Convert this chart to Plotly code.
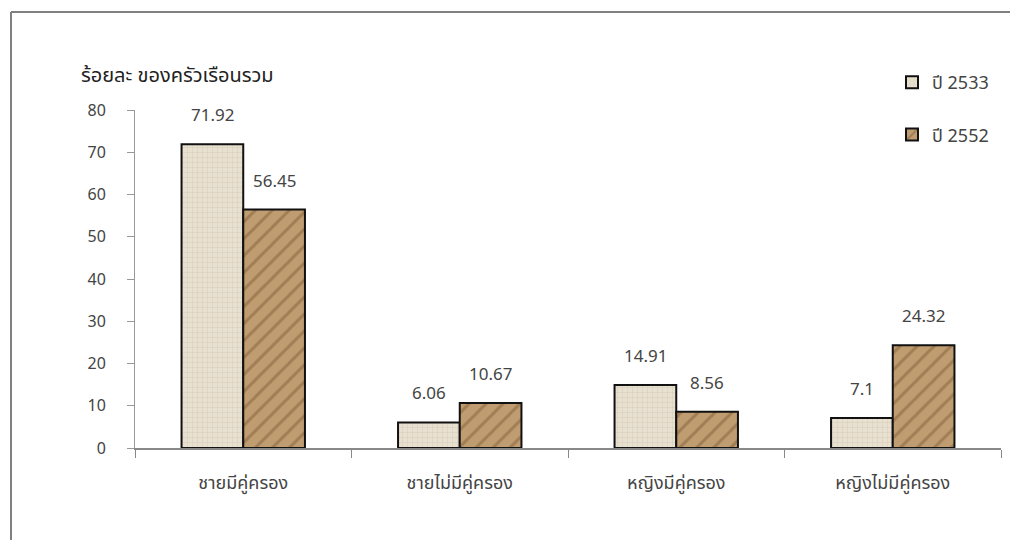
import plotly.graph_objects as go

categories = ["ชายมีคู่ครอง", "ชายไม่มีคู่ครอง", "หญิงมีคู่ครอง", "หญิงไม่มีคู่ครอง"]
series_names = ["ปี 2533", "ปี 2552"]
values_2533 = [71.92, 6.06, 14.91, 7.1]
values_2552 = [56.45, 10.67, 8.56, 24.32]
y_ticks = [0, 10, 20, 30, 40, 50, 60, 70, 80]
y_title = "ร้อยละ ของครัวเรือนรวม"

FONT = "Tahoma, 'Noto Sans Thai', 'Noto Sans', 'DejaVu Sans', sans-serif"
W, H = 1018, 540
OFF = 8  # page body margin
L, R, T, B = 127, 25, 102, 100
PW, PH = W - L - R, H - T - B
TXT = "#444444"

def px_x(px):
    return (px - OFF - L) / PW

def px_y(py):
    return (H - B - (py - OFF)) / PH

fig = go.Figure()
fig.add_trace(go.Bar(
    name=series_names[0], x=categories, y=values_2533,
    marker=dict(color="#e8e1d1", line=dict(color="#111111", width=2),
                pattern=dict(shape="+", fgcolor="#cbbfa6", bgcolor="#e8e1d1", size=5, solidity=0.25)),
    legendgroup="a",
))
fig.add_trace(go.Bar(
    name=series_names[1], x=categories, y=values_2552,
    marker=dict(color="#bb976a", line=dict(color="#111111", width=2),
                pattern=dict(shape="/", fgcolor="#7f5d38", bgcolor="#c09d71", size=12, solidity=0.25)),
    legendgroup="b",
))

# value labels above bars
for vals, shift in ((values_2533, -31), (values_2552, 31)):
    for c, v in zip(categories, vals):
        fig.add_annotation(x=c, y=v, text=str(v), showarrow=False, xshift=shift,
                           yshift=28, font=dict(family=FONT, size=17, color=TXT))

# y title
fig.add_annotation(xref="paper", yref="paper", x=px_x(79), y=px_y(76), xanchor="left",
                   yanchor="middle", text=y_title, showarrow=False,
                   font=dict(family=FONT, size=20, color="#222222"))

# frame lines
fig.add_shape(type="line", xref="paper", yref="paper", x0=px_x(11), x1=px_x(1030),
              y0=px_y(12), y1=px_y(12), line=dict(color="#808080", width=2))
fig.add_shape(type="line", xref="paper", yref="paper", x0=px_x(11), x1=px_x(11),
              y0=px_y(12), y1=px_y(560), line=dict(color="#808080", width=2))

fig.update_layout(
    width=W, height=H,
    margin=dict(l=L, r=R, t=T, b=B),
    paper_bgcolor="white", plot_bgcolor="white",
    barmode="group", bargap=0.43, bargroupgap=0,
    font=dict(family=FONT, size=15, color=TXT),
    showlegend=True,
    legend=dict(x=px_x(892), y=px_y(64), xanchor="left", yanchor="top",
                tracegroupgap=26, font=dict(family=FONT, size=18, color=TXT),
                bgcolor="rgba(0,0,0,0)", itemwidth=30),
    xaxis=dict(showline=True, linecolor="#888888", linewidth=1.5, ticks="outside",
               tickson="boundaries", ticklen=8, tickcolor="#888888", showgrid=False,
               tickfont=dict(family=FONT, size=18, color=TXT), ticklabelstandoff=18),
    yaxis=dict(range=[0, 80], tickvals=y_ticks, showline=True, linecolor="#999999",
               linewidth=1, ticks="outside", ticklen=7, tickcolor="#999999",
               showgrid=False, zeroline=False, ticklabelstandoff=18,
               tickfont=dict(family=FONT, size=16, color=TXT)),
)

fig.write_html("out.html")
